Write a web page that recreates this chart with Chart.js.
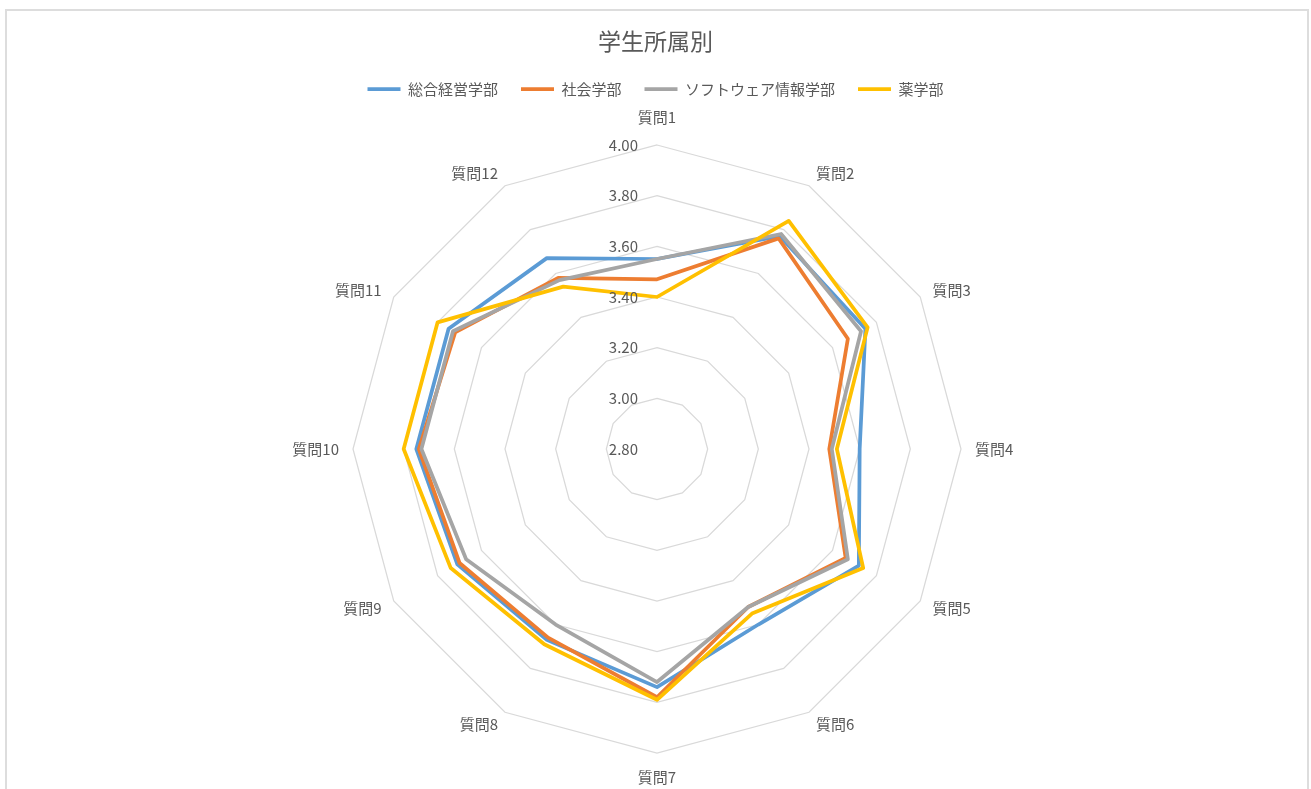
<!DOCTYPE html>
<html lang="ja">
<head>
<meta charset="utf-8">
<title>学生所属別</title>
<script src="https://cdn.jsdelivr.net/npm/chart.js@4.4.1/dist/chart.umd.min.js"></script>
<style>
  html, body { margin: 0; padding: 0; background: #ffffff; overflow: hidden; }
  #wrap { position: relative; width: 1311px; height: 789px; }
  #frame {
    position: absolute; left: 5px; top: 9px; width: 1304px; height: 900px;
    box-sizing: border-box; border: 2px solid #dddddd; pointer-events: none;
  }
  canvas { position: absolute; left: 0; top: 0; }
</style>
</head>
<body>
<div id="wrap">
  <canvas id="myChart" width="1311" height="789"></canvas>
  <div id="frame"></div>
</div>
<script>
// data
const questions = ["質問1", "質問2", "質問3", "質問4", "質問5", "質問6",
                   "質問7", "質問8", "質問9", "質問10", "質問11", "質問12"];
const seriesNames = ["総合経営学部", "社会学部", "ソフトウェア情報学部", "薬学部"];
const keiei    = [3.55, 3.77, 3.75, 3.60, 3.72, 3.60, 3.74, 3.67, 3.71, 3.75, 3.75, 3.67];
const shakai   = [3.47, 3.76, 3.67, 3.48, 3.66, 3.52, 3.78, 3.66, 3.70, 3.74, 3.72, 3.58];
const software = [3.55, 3.78, 3.73, 3.49, 3.67, 3.52, 3.72, 3.60, 3.67, 3.73, 3.73, 3.57];
const yakugaku = [3.40, 3.84, 3.76, 3.51, 3.74, 3.55, 3.79, 3.69, 3.74, 3.80, 3.80, 3.54];
const axisMin = 2.8;
const axisMax = 4.0;
const axisStep = 0.2;

const TEXT_COLOR = "#595959";
const FONT = '"Noto Sans CJK JP", "Noto Sans", sans-serif';

Chart.defaults.font.family = FONT;
Chart.defaults.color = TEXT_COLOR;

// axis labels and tick labels placed like Excel does
const radarText = {
    id: "radarText",
    afterDatasetsDraw(chart) {
        const scale = chart.scales.r;
        const ctx = chart.ctx;
        ctx.save();
        ctx.fillStyle = TEXT_COLOR;
        ctx.font = "15px " + FONT;

        ctx.textAlign = "right";
        ctx.textBaseline = "middle";
        scale.ticks.forEach(t => {
            const d = scale.getDistanceFromCenterForValue(t.value);
            ctx.fillText(t.value.toFixed(2), scale.xCenter - 19, scale.yCenter - d);
        });

        questions.forEach((q, i) => {
            const p = scale.getPointPosition(i, scale.drawingArea + 14);
            const dx = p.x - scale.xCenter;
            let y = p.y;
            if (Math.abs(dx) < 1) {
                ctx.textAlign = "center";
                y += p.y < scale.yCenter ? -14 : 10;
            } else {
                ctx.textAlign = dx > 0 ? "left" : "right";
            }
            ctx.fillText(q, p.x, y);
        });
        ctx.restore();
    }
};

function makeSet(label, values, color, order) {
    return {
        label: label,
        data: values,
        borderColor: color,
        backgroundColor: color,
        borderWidth: 3.75,
        borderJoinStyle: "round",
        fill: false,
        pointRadius: 0,
        pointHoverRadius: 0,
        order: order
    };
}

const ctx = document.getElementById("myChart").getContext("2d");
new Chart(ctx, {
    type: "radar",
    data: {
        labels: questions,
        datasets: [
            makeSet(seriesNames[0], keiei, "#5B9BD5", 3),
            makeSet(seriesNames[1], shakai, "#ED7D31", 2),
            makeSet(seriesNames[2], software, "#A5A5A5", 1),
            makeSet(seriesNames[3], yakugaku, "#FFC000", 0)
        ]
    },
    options: {
        responsive: false,
        animation: false,
        layout: { padding: 0 },
        plugins: {
            title: {
                display: true,
                text: "学生所属別",
                color: TEXT_COLOR,
                font: { size: 23, weight: "normal" },
                padding: { top: 27, bottom: 4 }
            },
            legend: {
                display: true,
                position: "top",
                labels: {
                    usePointStyle: true,
                    pointStyleWidth: 33,
                    pointStyle: "line",
                    boxHeight: 15,
                    padding: 23,
                    color: TEXT_COLOR,
                    font: { size: 15 },
                    sort: (a, b) => a.datasetIndex - b.datasetIndex
                }
            },
            tooltip: { enabled: false }
        },
        scales: {
            r: {
                min: axisMin,
                max: axisMax,
                ticks: { stepSize: axisStep, display: false },
                grid: { color: "#d9d9d9", lineWidth: 1.25 },
                angleLines: { display: false },
                pointLabels: { display: false },
                // keep the plot where the original sits
                afterFit: (scale) => {
                    scale.xCenter = 657;
                    scale.yCenter = 449;
                    scale.drawingArea = 304;
                }
            }
        }
    },
    plugins: [radarText]
});
</script>
</body>
</html>
